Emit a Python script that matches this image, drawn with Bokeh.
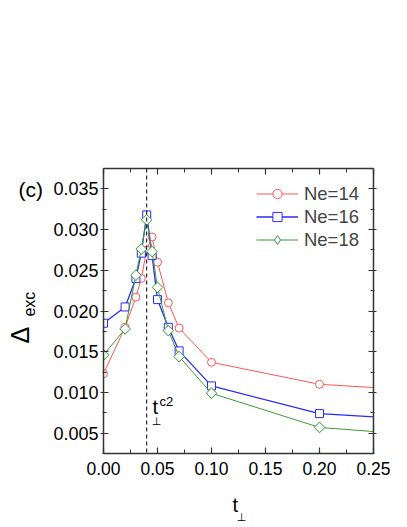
import math
from bokeh.plotting import figure
from bokeh.models import (LinearAxis, Range1d, Span, Label, Legend, LegendItem,
                          SingleIntervalTicker, FixedTicker, PrintfTickFormatter,
                          CustomJSTickFormatter)
from bokeh.embed import file_html
from bokeh.resources import INLINE

# ---------------- data ----------------
t_perp = [0.0, 0.02, 0.03, 0.035, 0.04, 0.045, 0.05, 0.06, 0.07, 0.10, 0.20, 0.30]
gap_ne14 = [0.0123, 0.0180, 0.0217, 0.0240, 0.0275, 0.0291, 0.0260, 0.0210, 0.0179, 0.0137, 0.0110, 0.0102]
gap_ne16 = [0.0185, 0.0205, 0.0240, 0.0271, 0.0318, 0.0268, 0.0214, 0.0180, 0.0151, 0.0108, 0.0074, 0.0066]
gap_ne18 = [0.0146, 0.0178, 0.0244, 0.0276, 0.0312, 0.0273, 0.0229, 0.0176, 0.0144, 0.0099, 0.0057, 0.0047]
series_labels = ["Ne=14", "Ne=16", "Ne=18"]
t_c2 = 0.04

FONT = "Liberation Sans"

p = figure(width=400, height=524, output_backend="svg", toolbar_location=None,
           x_range=Range1d(0.0, 0.25), y_range=Range1d(0.0025, 0.0375),
           min_border_left=103, min_border_right=27, min_border_top=168,
           min_border_bottom=71)
p.outline_line_color = None
p.xgrid.visible = False
p.ygrid.visible = False
p.background_fill_color = "white"
p.border_fill_color = "white"

xt = SingleIntervalTicker(interval=0.05, num_minor_ticks=2)
yt = SingleIntervalTicker(interval=0.005, num_minor_ticks=2)

AX_COL = "#333333"
blank = CustomJSTickFormatter(code="return ''")

def style_x(ax, labels=True):
    ax.ticker = xt
    ax.axis_line_color = AX_COL
    ax.axis_line_width = 1.5
    ax.major_tick_line_color = AX_COL
    ax.minor_tick_line_color = AX_COL
    ax.major_tick_line_width = 1.2
    ax.major_tick_in = 6
    ax.major_tick_out = 0
    ax.minor_tick_in = 4
    ax.minor_tick_out = 0
    ax.major_label_text_font = FONT
    ax.major_label_text_font_size = "17.5px"
    ax.major_label_text_color = "black"
    ax.major_label_standoff = 8
    ax.formatter = PrintfTickFormatter(format="%.2f") if labels else blank

def style_y(ax, labels=True):
    ax.ticker = yt
    ax.axis_line_color = AX_COL
    ax.axis_line_width = 1.5
    ax.major_tick_line_color = AX_COL
    ax.minor_tick_line_color = AX_COL
    ax.major_tick_line_width = 1.2
    ax.major_tick_in = 5
    ax.major_tick_out = 3
    ax.minor_tick_in = 3
    ax.minor_tick_out = 1
    ax.major_label_text_font = FONT
    ax.major_label_text_font_size = "18px"
    ax.major_label_text_color = "black"
    ax.major_label_standoff = 2
    ax.formatter = PrintfTickFormatter(format="%.3f") if labels else blank

style_x(p.xaxis[0])
style_y(p.yaxis[0])
top = LinearAxis()
style_x(top, labels=False)
p.add_layout(top, "above")
right = LinearAxis()
style_y(right, labels=False)
p.add_layout(right, "right")

# critical line
p.add_layout(Span(location=t_c2, dimension="height", line_color="black",
                  line_width=1, line_dash="4 3"))

colors = ["#ff5555", "#2a2aff", "#3a9a3a"]
lw = [1, 1.3, 1]
items = []

# Ne=14 : circles
lr = p.line(t_perp, gap_ne14, line_color=colors[0], line_width=lw[0])
sr = p.scatter(t_perp, gap_ne14, marker="circle", size=8, line_color=colors[0],
               line_width=1, fill_color="white")
items.append(LegendItem(label=series_labels[0], renderers=[lr, sr]))

# Ne=16 : squares
lr = p.line(t_perp, gap_ne16, line_color=colors[1], line_width=lw[1])
sr = p.scatter(t_perp, gap_ne16, marker="square", size=8, line_color=colors[1],
               line_width=1, fill_color="white")
items.append(LegendItem(label=series_labels[1], renderers=[lr, sr]))

# Ne=18 : diamonds (rotated squares on the plot; a diamond glyph, hidden
# beneath them, provides the legend symbol)
lr = p.line(t_perp, gap_ne18, line_color=colors[2], line_width=lw[2])
dr = p.scatter(t_perp, gap_ne18, marker="diamond", size=10.5, line_color=colors[2],
               line_width=1, fill_color="white")
p.scatter(t_perp, gap_ne18, marker="square", angle=math.pi / 4, size=7.5,
          line_color=colors[2], line_width=1, fill_color="white")
items.append(LegendItem(label=series_labels[2], renderers=[lr, dr]))

legend = Legend(items=items, location="top_right")
legend.border_line_color = None
legend.background_fill_alpha = 0
legend.label_text_font = FONT
legend.label_text_font_size = "18.5px"
legend.glyph_width = 42
legend.glyph_height = 23
legend.label_height = 23
legend.spacing = 0
legend.label_standoff = 6
legend.padding = 0
legend.margin = 14
p.add_layout(legend)

# helpers: page pixel -> data coordinates (for text placement only)
def dx(px):
    return (px - 103) / 1080.0

def dy(py):
    return 0.035 - (py - 188.7) / 8143.0

def lab(x, y, text, size, font=FONT, place="center", **kw):
    p.add_layout(Label(x=dx(x), y=dy(y), text=text, text_font=font,
                       text_font_size=size, text_color="black", **kw), place)

# panel label (placed in a side panel so that it is not clipped to the frame)
lab(18, 189, "(c)", "21px", place="above", text_baseline="middle")

# t_perp^c2 annotation
lab(152, 418, "t", "20px")
lab(159, 409, "c2", "13px")
lab(156, 428, "\u22a5", "11px", font="DejaVu Sans", text_align="center")

# x axis label t_perp
lab(232, 516, "t", "20px", place="above")
lab(241, 524, "\u22a5", "11px", font="DejaVu Sans", place="above", text_align="center")

# y axis label Delta_exc: vertical text drawn as the single tick label of
# bare extra axes stacked in the left panel (these are rotated reliably)
def text_axis(text, ypos, size, standoff):
    ax = LinearAxis(ticker=FixedTicker(ticks=[ypos], minor_ticks=[]),
                    formatter=CustomJSTickFormatter(code="return '%s'" % text))
    ax.axis_line_color = None
    ax.major_tick_line_color = None
    ax.minor_tick_line_color = None
    ax.major_tick_in = 0
    ax.major_tick_out = 0
    ax.minor_tick_in = 0
    ax.minor_tick_out = 0
    ax.major_label_orientation = "vertical"
    ax.major_label_text_font = FONT
    ax.major_label_text_font_size = size
    ax.major_label_text_color = "black"
    ax.major_label_standoff = standoff
    p.add_layout(ax, "left")

text_axis("exc", dy(304), "16px", 12)
text_axis("\u0394", dy(335), "25px", -16)

open("out.html", "w").write(file_html(p, INLINE))
